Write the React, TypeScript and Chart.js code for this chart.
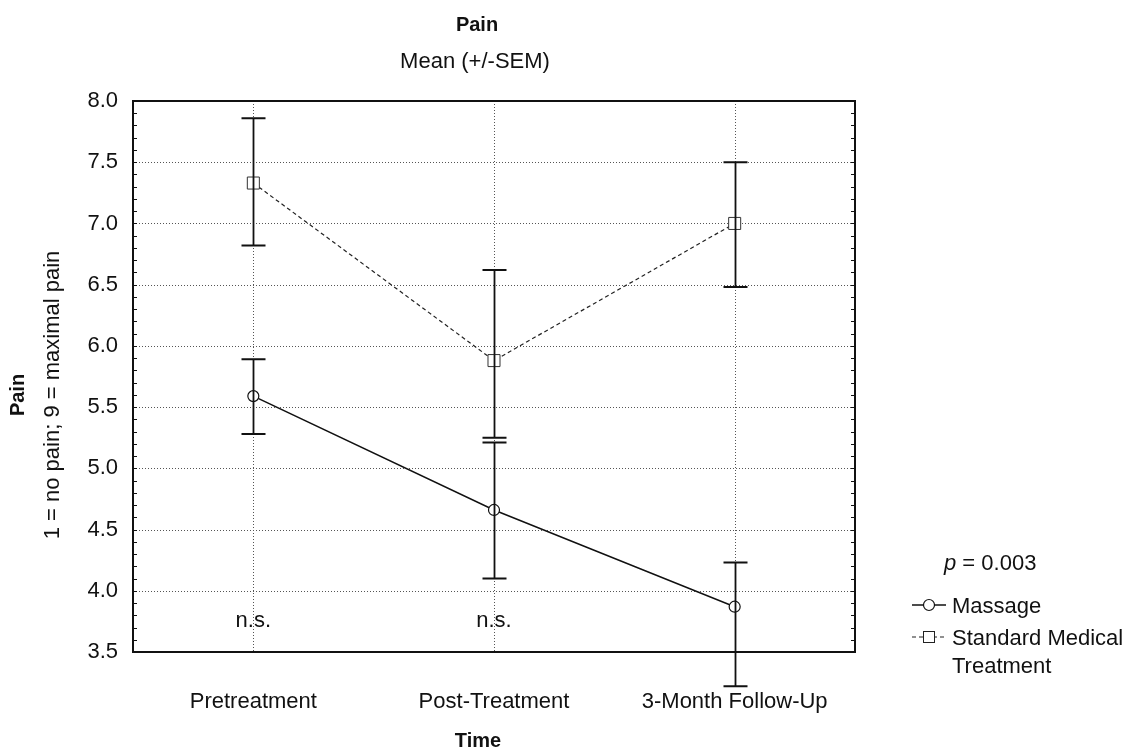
import React, { useEffect, useRef } from 'react';
import { Chart, registerables } from 'chart.js';

Chart.register(...registerables);

const categories = ['Pretreatment', 'Post-Treatment', '3-Month Follow-Up'];
const massageMean = [5.59, 4.66, 3.87];
const massageLow = [5.28, 4.1, 3.22];
const massageHigh = [5.89, 5.21, 4.23];
const smtMean = [7.33, 5.88, 7.0];
const smtLow = [6.82, 5.25, 6.48];
const smtHigh = [7.86, 6.62, 7.5];
const nsLabels = ['n.s.', 'n.s.', ''];
const seriesNames = ['Massage', 'Standard Medical Treatment'];
const yMin = 3.5;
const yMax = 8.0;
const yStep = 0.5;

const FONT = "'Liberation Sans', Arial, Helvetica, sans-serif";

const customPlugin = {
  id: 'customDraw',
  beforeDatasetsDraw(chart: any) {
    const { ctx, chartArea: a, scales } = chart;
    const xs = scales.x;
    const ys = scales.y;
    ctx.save();
    // dotted grid
    ctx.strokeStyle = '#555';
    ctx.lineWidth = 1;
    ctx.setLineDash([1, 2]);
    for (let v = yMin + yStep; v < yMax - 1e-6; v += yStep) {
      const y = Math.round(ys.getPixelForValue(v)) + 0.5;
      ctx.beginPath();
      ctx.moveTo(a.left, y);
      ctx.lineTo(a.right, y);
      ctx.stroke();
    }
    categories.forEach((_, i) => {
      const x = Math.round(xs.getPixelForValue(i)) + 0.5;
      ctx.beginPath();
      ctx.moveTo(x, a.top);
      ctx.lineTo(x, a.bottom);
      ctx.stroke();
    });
    ctx.setLineDash([]);
    // minor ticks on borders
    ctx.strokeStyle = '#111';
    ctx.lineWidth = 1;
    for (let k = 0; k <= Math.round((yMax - yMin) / 0.1); k++) {
      const v = yMin + k * 0.1;
      const y = Math.round(ys.getPixelForValue(v)) + 0.5;
      ctx.beginPath();
      ctx.moveTo(a.left, y);
      ctx.lineTo(a.left + 4, y);
      ctx.stroke();
      ctx.beginPath();
      ctx.moveTo(a.right, y);
      ctx.lineTo(a.right - 4, y);
      ctx.stroke();
    }
    // frame
    ctx.strokeStyle = '#111';
    ctx.lineWidth = 2;
    ctx.strokeRect(a.left, a.top, a.right - a.left, a.bottom - a.top);
    ctx.restore();
  },
  afterDatasetsDraw(chart: any) {
    const { ctx, scales } = chart;
    const xs = scales.x;
    const ys = scales.y;
    ctx.save();
    ctx.strokeStyle = '#111';
    const bars = [
      [massageLow, massageHigh],
      [smtLow, smtHigh],
    ];
    bars.forEach(([lo, hi]) => {
      lo.forEach((l: number, i: number) => {
        const x = Math.round(xs.getPixelForValue(i)) + 0.5;
        const y1 = ys.getPixelForValue(l);
        const y2 = ys.getPixelForValue(hi[i]);
        ctx.lineWidth = 1.8;
        ctx.beginPath();
        ctx.moveTo(x, y1);
        ctx.lineTo(x, y2);
        ctx.stroke();
        ctx.lineWidth = 2;
        ctx.beginPath();
        ctx.moveTo(x - 12, y1);
        ctx.lineTo(x + 12, y1);
        ctx.moveTo(x - 12, y2);
        ctx.lineTo(x + 12, y2);
        ctx.stroke();
      });
    });
    // n.s. labels
    ctx.fillStyle = '#111';
    ctx.font = `22px ${FONT}`;
    ctx.textAlign = 'center';
    ctx.textBaseline = 'alphabetic';
    nsLabels.forEach((t, i) => {
      if (!t) return;
      ctx.fillText(t, xs.getPixelForValue(i), 627);
    });
    ctx.restore();
  },
  afterDraw(chart: any) {
    const { ctx } = chart;
    ctx.save();
    ctx.fillStyle = '#111';
    ctx.textAlign = 'center';
    ctx.textBaseline = 'middle';
    // titles
    ctx.font = `bold 20px ${FONT}`;
    ctx.fillText('Pain', 477, 25);
    ctx.font = `22px ${FONT}`;
    ctx.fillText('Mean (+/-SEM)', 475, 62);
    // x axis title
    ctx.font = `bold 20px ${FONT}`;
    ctx.fillText('Time', 478, 741);
    // y axis title
    ctx.save();
    ctx.translate(18, 395);
    ctx.rotate(-Math.PI / 2);
    ctx.font = `bold 20px ${FONT}`;
    ctx.fillText('Pain', 0, 0);
    ctx.restore();
    ctx.save();
    ctx.translate(53, 395);
    ctx.rotate(-Math.PI / 2);
    ctx.font = `22px ${FONT}`;
    ctx.fillText('1 = no pain; 9 = maximal pain', 0, 0);
    ctx.restore();
    // legend
    ctx.textAlign = 'left';
    ctx.textBaseline = 'alphabetic';
    ctx.font = `italic 22px ${FONT}`;
    ctx.fillText('p', 944, 570);
    const pw = ctx.measureText('p').width;
    ctx.font = `22px ${FONT}`;
    ctx.fillText(' = 0.003', 944 + pw, 570);
    const symL = 912;
    const symR = 946;
    const symC = (symL + symR) / 2;
    const textX = 952;
    // massage
    let y = 605;
    ctx.strokeStyle = '#111';
    ctx.lineWidth = 1.5;
    ctx.beginPath();
    ctx.moveTo(symL, y);
    ctx.lineTo(symR, y);
    ctx.stroke();
    ctx.fillStyle = '#fff';
    ctx.beginPath();
    ctx.arc(symC, y, 5.5, 0, Math.PI * 2);
    ctx.fill();
    ctx.lineWidth = 1.2;
    ctx.stroke();
    ctx.fillStyle = '#111';
    ctx.fillText(seriesNames[0], textX, 613);
    // smt
    y = 637;
    ctx.strokeStyle = '#222';
    ctx.lineWidth = 1.2;
    ctx.setLineDash([4, 3]);
    ctx.beginPath();
    ctx.moveTo(symL, y);
    ctx.lineTo(symR, y);
    ctx.stroke();
    ctx.setLineDash([]);
    ctx.lineWidth = 1;
    ctx.fillStyle = '#fff';
    ctx.fillRect(symC - 6, y - 6, 12, 12);
    ctx.strokeRect(symC - 6 + 0.5, y - 6 + 0.5, 11, 11);
    ctx.fillStyle = '#111';
    ctx.fillText('Standard Medical', textX, 645);
    ctx.fillText('Treatment', textX, 673);
    ctx.restore();
  },
};

export default function App() {
  const ref = useRef<HTMLCanvasElement | null>(null);
  useEffect(() => {
    if (!ref.current) return;
    const chart = new Chart(ref.current, {
      type: 'line',
      data: {
        labels: categories,
        datasets: [
          {
            label: seriesNames[0],
            data: massageMean,
            borderColor: '#111',
            borderWidth: 1.5,
            pointStyle: 'circle',
            pointRadius: 5.5,
            pointBackgroundColor: '#fff',
            pointBorderColor: '#111',
            pointBorderWidth: 1.2,
            tension: 0,
          },
          {
            label: seriesNames[1],
            data: smtMean,
            borderColor: '#222',
            borderWidth: 1.2,
            borderDash: [4, 3],
            pointStyle: 'rect',
            pointRadius: 8.5,
            pointBackgroundColor: '#fff',
            pointBorderColor: '#333',
            pointBorderWidth: 1,
            tension: 0,
          },
        ],
      },
      options: {
        responsive: false,
        animation: false,
        layout: { padding: { left: 0, right: 272, top: 101, bottom: 0 } },
        plugins: {
          legend: { display: false },
          title: { display: false },
          tooltip: { enabled: false },
        },
        scales: {
          x: {
            type: 'category',
            offset: true,
            grid: { display: false, drawTicks: false },
            border: { display: false },
            ticks: {
              font: { family: FONT, size: 22 },
              color: '#111',
              padding: 37,
              maxRotation: 0,
            },
            afterFit: (s: any) => {
              s.height = 99;
            },
          },
          y: {
            type: 'linear',
            min: yMin,
            max: yMax,
            grid: { display: false, drawTicks: false },
            border: { display: false },
            ticks: {
              stepSize: yStep,
              font: { family: FONT, size: 22 },
              color: '#111',
              padding: 15,
              callback: (v: any) => Number(v).toFixed(1),
            },
            afterFit: (s: any) => {
              s.width = 133;
            },
          },
        },
      },
      plugins: [customPlugin],
    });
    return () => chart.destroy();
  }, []);
  return (
    <div style={{ position: 'absolute', left: 0, top: 0, width: 1127, height: 751, background: '#fff' }}>
      <canvas ref={ref} width={1127} height={751} />
    </div>
  );
}
